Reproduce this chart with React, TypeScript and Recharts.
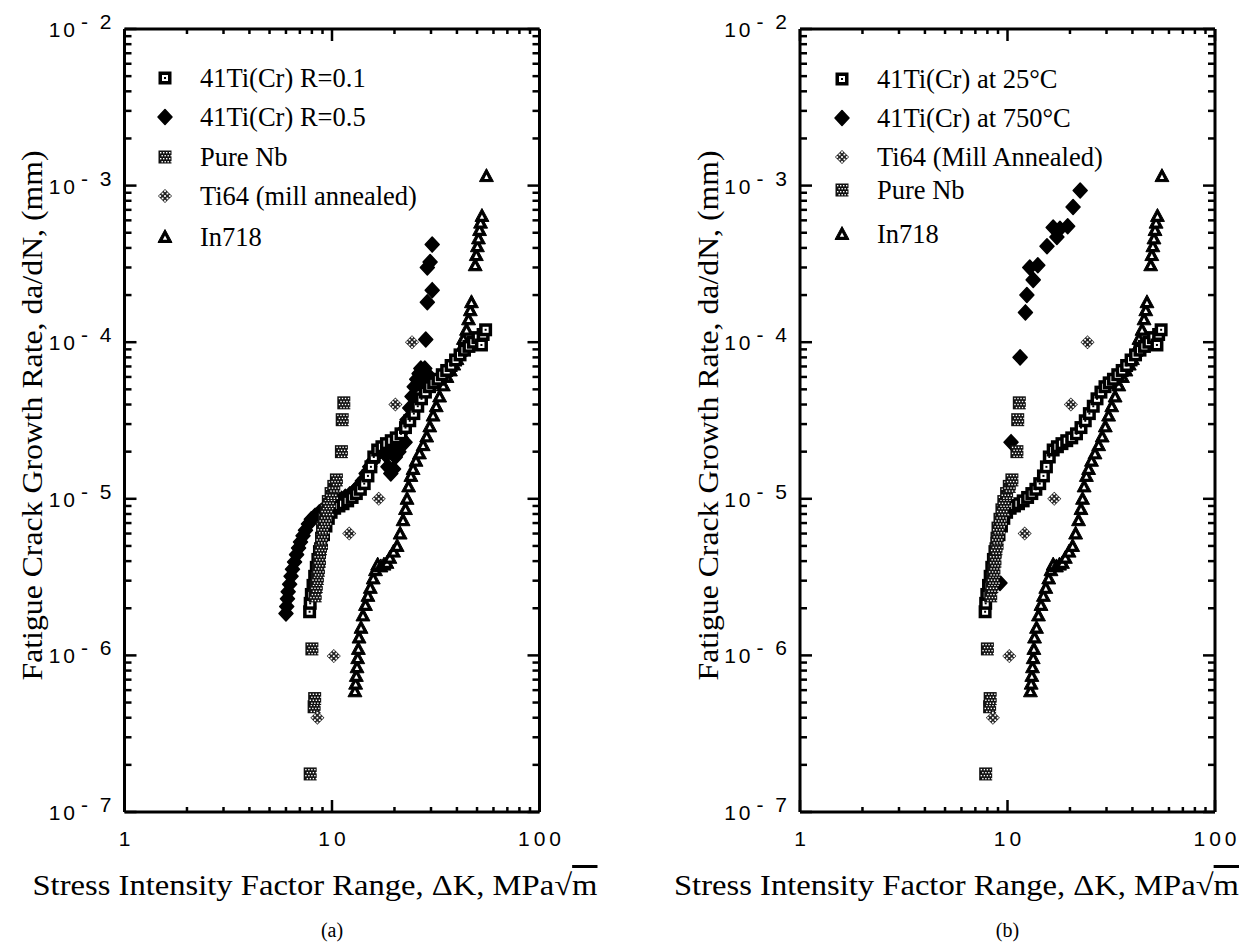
import React from 'react';
import { ScatterChart, Scatter, XAxis, YAxis, Legend } from 'recharts';

type Pt = [number, number];

// ---- data: [ΔK (MPa√m), da/dN (mm)] ----
const ti41R01: Pt[] = [
  [7.8, 1.9e-6], [7.85, 2.15e-6], [7.95, 2.45e-6], [8.1, 2.8e-6], [8.25, 3.2e-6], [8.4, 3.65e-6],
  [8.55, 4.1e-6], [8.7, 4.6e-6], [8.9, 5.2e-6], [9.1, 5.9e-6], [9.35, 6.7e-6], [9.6, 7.5e-6],
  [9.9, 8.2e-6], [10.3, 8.7e-6], [10.8, 9.0e-6], [11.3, 9.3e-6], [11.9, 9.7e-6], [12.5, 1.02e-5],
  [13.1, 1.08e-5], [13.7, 1.15e-5], [14.3, 1.25e-5], [14.9, 1.4e-5], [15.4, 1.6e-5], [15.9, 1.85e-5],
  [16.6, 2.05e-5], [17.4, 2.15e-5], [18.3, 2.25e-5], [19.3, 2.35e-5], [20.4, 2.45e-5], [21.5, 2.6e-5],
  [22.6, 2.85e-5], [23.7, 3.15e-5], [24.8, 3.5e-5], [25.9, 3.9e-5], [27.0, 4.35e-5], [28.2, 4.8e-5],
  [29.5, 5.2e-5], [30.9, 5.5e-5], [32.4, 5.8e-5], [34.0, 6.2e-5], [35.7, 6.6e-5], [37.5, 7.1e-5],
  [39.4, 7.7e-5], [41.4, 8.3e-5], [43.5, 8.9e-5], [45.7, 9.4e-5], [48.0, 1.0e-4], [50.5, 1.07e-4],
  [52.5, 9.6e-5], [53.5, 1.12e-4], [55.0, 1.2e-4],
];

const ti41R05: Pt[] = [
  [6.0, 1.85e-6], [6.05, 2.05e-6], [6.1, 2.3e-6], [6.15, 2.55e-6], [6.25, 2.85e-6], [6.35, 3.2e-6],
  [6.45, 3.55e-6], [6.6, 3.95e-6], [6.75, 4.4e-6], [6.9, 4.85e-6], [7.05, 5.3e-6], [7.25, 5.8e-6],
  [7.45, 6.3e-6], [7.7, 6.9e-6], [7.95, 7.4e-6], [8.3, 7.8e-6], [8.7, 8.2e-6], [9.1, 8.6e-6],
  [9.6, 9.0e-6], [10.1, 9.4e-6], [10.6, 9.7e-6], [11.1, 1.0e-5], [11.6, 1.03e-5], [12.2, 1.07e-5],
  [12.8, 1.12e-5], [13.4, 1.2e-5], [14.0, 1.3e-5], [14.6, 1.45e-5], [15.2, 1.6e-5], [15.8, 1.75e-5],
  [16.4, 1.9e-5], [17.0, 2.05e-5], [17.6, 2.15e-5], [18.2, 1.9e-5], [18.6, 1.6e-5], [19.2, 1.45e-5],
  [19.0, 2.1e-5], [19.8, 1.55e-5], [20.0, 2.3e-5], [20.2, 1.85e-5], [20.8, 2.2e-5], [21.0, 2.0e-5],
  [21.5, 2.45e-5], [22.2, 2.75e-5], [22.5, 2.3e-5], [23.0, 3.2e-5], [23.7, 3.8e-5], [24.3, 4.5e-5],
  [24.9, 5.2e-5], [25.6, 5.8e-5], [26.3, 6.3e-5], [26.8, 6.8e-5], [27.0, 6.0e-5], [27.2, 5.2e-5],
  [27.7, 5.5e-5], [28.4, 5.8e-5], [29.0, 6.2e-5], [29.5, 5.5e-5], [28.0, 6.8e-5], [28.3, 1.04e-4],
  [28.8, 1.8e-4], [30.4, 2.15e-4], [28.8, 3.0e-4], [29.7, 3.25e-4], [30.4, 4.2e-4],
];

const ti41T750: Pt[] = [
  [9.2, 2.9e-6], [10.4, 2.3e-5], [11.5, 8.0e-5], [12.2, 1.55e-4], [12.4, 2.0e-4], [13.3, 2.5e-4],
  [12.8, 3.0e-4], [14.0, 3.1e-4], [15.5, 4.1e-4], [16.6, 5.4e-4], [17.3, 4.7e-4], [17.9, 5.3e-4],
  [19.5, 5.5e-4], [20.7, 7.3e-4], [22.4, 9.3e-4],
];

const pureNb: Pt[] = [
  [7.85, 1.75e-7], [8.2, 4.7e-7], [8.25, 5.3e-7], [8.0, 1.1e-6], [8.3, 2.4e-6], [8.4, 2.75e-6],
  [8.5, 3.1e-6], [8.6, 3.5e-6], [8.7, 4.0e-6], [8.8, 4.8e-6], [8.9, 5.6e-6], [9.0, 6.5e-6],
  [9.2, 7.4e-6], [9.4, 8.5e-6], [9.6, 9.6e-6], [9.9, 1.08e-5], [10.2, 1.2e-5], [10.5, 1.32e-5],
  [11.1, 2.0e-5], [11.2, 3.2e-5], [11.4, 4.1e-5],
];

const ti64: Pt[] = [
  [8.5, 4.0e-7], [10.2, 9.9e-7], [12.1, 6.0e-6], [16.8, 1.0e-5], [20.2, 4.0e-5], [24.3, 1.0e-4],
];

const in718: Pt[] = [
  [12.9, 5.9e-7], [13.0, 6.6e-7], [13.1, 7.4e-7], [13.2, 8.4e-7], [13.3, 9.6e-7], [13.4, 1.1e-6],
  [13.5, 1.3e-6], [13.8, 1.5e-6], [14.1, 1.8e-6], [14.5, 2.1e-6], [14.9, 2.4e-6], [15.3, 2.7e-6],
  [15.8, 3.1e-6], [16.2, 3.5e-6], [16.6, 3.8e-6], [17.2, 3.7e-6], [17.8, 3.8e-6], [18.4, 3.9e-6],
  [19.0, 4.2e-6], [19.8, 4.6e-6], [20.6, 5.0e-6], [21.3, 6.0e-6], [22.0, 7.3e-6], [22.6, 8.6e-6],
  [23.0, 1.0e-5], [23.4, 1.2e-5], [24.0, 1.4e-5], [24.6, 1.55e-5], [25.4, 1.75e-5], [26.4, 1.95e-5],
  [27.5, 2.2e-5], [28.6, 2.5e-5], [29.6, 2.9e-5], [30.7, 3.4e-5], [31.8, 3.9e-5], [33.0, 4.5e-5],
  [34.4, 5.3e-5], [35.8, 6.0e-5], [37.2, 6.6e-5], [38.6, 7.2e-5], [40.0, 7.8e-5], [41.5, 8.8e-5],
  [43.0, 1.05e-4], [44.5, 1.2e-4], [45.5, 1.4e-4], [46.4, 1.6e-4], [47.0, 1.8e-4], [49.0, 3.1e-4],
  [49.6, 3.6e-4], [50.2, 4.1e-4], [50.8, 4.6e-4], [51.4, 5.2e-4], [52.0, 5.8e-4], [52.8, 6.4e-4],
  [55.5, 1.15e-3],
];

const legendLabelsA = ['41Ti(Cr) R=0.1', '41Ti(Cr) R=0.5', 'Pure Nb', 'Ti64 (mill annealed)', 'In718'];
const legendLabelsB = ['41Ti(Cr) at 25°C', '41Ti(Cr) at 750°C', 'Ti64 (Mill Annealed)', 'Pure Nb', 'In718'];

const kTicks = [1, 2, 3, 4, 5, 6, 7, 8, 9, 10, 20, 30, 40, 50, 60, 70, 80, 90, 100];
const rateDecades = [-7, -6, -5, -4, -3];
const rateTicks: number[] = [];
rateDecades.forEach((e) => {
  for (let m = 1; m < 10; m++) rateTicks.push(Number((m * Math.pow(10, e)).toPrecision(3)));
});
rateTicks.push(1e-2);

// ---- styles ----
const SANS = "'Liberation Sans', Arimo, Arial, Helvetica, sans-serif";
const SERIF = "'Liberation Serif', Tinos, 'Times New Roman', Times, 'DejaVu Serif', serif";
const AX = { stroke: '#000', strokeWidth: 3 };
const PANEL_W = 626;
const PANEL_H = 952;
const PLOT_W = 415;
const PLOT_TOP = 29;
const PLOT_BOTTOM = 812;

const serifStyle = (size: number): React.CSSProperties => ({ fontFamily: SERIF, fontSize: size });
const sansStyle = (size: number, ls: number): React.CSSProperties => ({ fontFamily: SANS, fontSize: size, letterSpacing: ls });

const isDecade = (v: number) => Math.abs(Math.log10(v) - Math.round(Math.log10(v))) < 1e-6;

// ---- marker shapes ----
const OpenSquare = ({ cx, cy }: any) => (
  <g>
    <rect x={cx - 6.5} y={cy - 6.5} width={13} height={13} fill="#000" />
    <rect x={cx - 3} y={cy - 3} width={6} height={6} fill="#fff" />
    <rect x={cx - 1} y={cy - 1} width={2} height={2} fill="#000" />
  </g>
);

const FilledDiamond = ({ cx, cy }: any) => (
  <path
    d={`M${cx},${cy - 7.5} L${cx + 7},${cy} L${cx},${cy + 7.5} L${cx - 7},${cy} Z`}
    fill="#000"
    stroke="#000"
    strokeWidth={1.5}
    strokeLinejoin="round"
  />
);

const CheckSquare = ({ cx, cy }: any) => {
  const dots: React.ReactNode[] = [];
  for (let j = 0; j < 4; j++) {
    for (let i = 0; i < 4; i++) {
      const ox = -5 + i * 3 + (j % 2) * 1.5;
      const oy = -5 + j * 3;
      dots.push(<rect key={`${i}-${j}`} x={cx + ox} y={cy + oy} width={1.4} height={1.4} fill="#fff" />);
    }
  }
  return (
    <g>
      <rect x={cx - 6.5} y={cy - 6.5} width={13} height={13} fill="#111" />
      {dots}
    </g>
  );
};

const CheckDiamond = ({ cx, cy }: any) => {
  const dots: React.ReactNode[] = [];
  for (let j = -2; j <= 2; j++) {
    for (let i = -2; i <= 2; i++) {
      if (Math.abs(i) + Math.abs(j) <= 2 && (i + j) % 2 === 0) {
        dots.push(<rect key={`${i}-${j}`} x={cx + i * 2.4 - 0.9} y={cy + j * 2.4 - 0.9} width={1.8} height={1.8} fill="#fff" />);
      }
    }
  }
  return (
    <g>
      <path d={`M${cx},${cy - 7} L${cx + 7},${cy} L${cx},${cy + 7} L${cx - 7},${cy} Z`} fill="#222" />
      {dots}
    </g>
  );
};

const OpenTriangle = ({ cx, cy }: any) => (
  <g>
    <path
      d={`M${cx},${cy - 7.5} L${cx + 7},${cy + 5.5} L${cx - 7},${cy + 5.5} Z`}
      fill="#000"
      stroke="#000"
      strokeWidth={1}
      strokeLinejoin="round"
    />
    <path d={`M${cx},${cy - 1.5} L${cx + 2.2},${cy + 2.8} L${cx - 2.2},${cy + 2.8} Z`} fill="#fff" />
  </g>
);

// ---- tick renderers ----
const BottomTick = (props: any) => {
  const { x, y, payload } = props;
  const v = payload.value;
  const major = isDecade(v);
  return (
    <g>
      <line x1={x} x2={x} y1={y} y2={y - (major ? 12 : 5)} stroke="#000" strokeWidth={2.5} />
      {major && (
        <text x={x + 2} y={y + 34} textAnchor="middle" style={sansStyle(21, 4)} fill="#000">
          {String(v)}
        </text>
      )}
    </g>
  );
};

const TopTick = (props: any) => {
  const { x, y, payload } = props;
  const major = isDecade(payload.value);
  return <line x1={x} x2={x} y1={y} y2={y + (major ? 12 : 5)} stroke="#000" strokeWidth={2.5} />;
};

const LeftTick = (props: any) => {
  const { x, y, payload } = props;
  const v = payload.value;
  const major = isDecade(v);
  const e = Math.round(Math.log10(v));
  return (
    <g>
      <line x1={x} x2={x + (major ? 12 : 7)} y1={y} y2={y} stroke="#000" strokeWidth={2.5} />
      {major && (
        <text x={x - 10} y={y + 8} textAnchor="end" style={sansStyle(21, 3)} fill="#000">
          <tspan>10</tspan>
          <tspan dx={3} dy={-8}>{`- ${-e}`}</tspan>
        </text>
      )}
    </g>
  );
};

const RightTick = (props: any) => {
  const { x, y, payload } = props;
  const major = isDecade(payload.value);
  return <line x1={x} x2={x - (major ? 12 : 7)} y1={y} y2={y} stroke="#000" strokeWidth={2.5} />;
};

// ---- titles ----
const makeXTitle = (caption: string, titleEnd: number) => (props: any) => {
  const vb = props.viewBox || {};
  const right = vb.x + vb.width;
  const mid = vb.x + vb.width / 2;
  return (
    <g>
      <text
        x={right + titleEnd}
        y={PLOT_BOTTOM + 83}
        textAnchor="end"
        textLength={565}
        lengthAdjust="spacingAndGlyphs"
        style={serifStyle(30)}
        fill="#000"
      >
        <tspan>Stress Intensity Factor Range, ΔK,  MPa</tspan>
        <tspan>√</tspan>
        <tspan style={{ textDecoration: 'overline' }}>m</tspan>
      </text>
      <text x={mid} y={PLOT_BOTTOM + 125} textAnchor="middle" style={serifStyle(20)} fill="#000">
        {caption}
      </text>
    </g>
  );
};

const YTitle = (props: any) => {
  const vb = props.viewBox || {};
  const cx = vb.x + vb.width - 93;
  const cy = vb.y + vb.height / 2 - 5;
  return (
    <text
      x={cx}
      y={cy}
      transform={`rotate(-90 ${cx} ${cy})`}
      textAnchor="middle"
      dominantBaseline="central"
      textLength={530}
      lengthAdjust="spacingAndGlyphs"
      style={serifStyle(30)}
      fill="#000"
    >
      Fatigue Crack Growth Rate, da/dN, (mm)
    </text>
  );
};

// ---- legend ----
type LegendItem = { label: string; Shape: any; baseline: number };

const makeLegend = (items: LegendItem[], markerX: number, textX: number) => () => (
  <svg width={PANEL_W} height={300} style={{ display: 'block', overflow: 'visible' }}>
    {items.map((it, i) => (
      <g key={i}>
        <it.Shape cx={markerX} cy={it.baseline - 9} />
        <text x={textX} y={it.baseline} style={serifStyle(26.5)} fill="#000">
          {it.label}
        </text>
      </g>
    ))}
  </svg>
);

type SeriesDef = { name: string; data: Pt[]; Shape: any };

const toRows = (pts: Pt[]) => pts.map(([k, r]) => ({ k, r }));

function Panel({
  plotLeft,
  series,
  legendItems,
  markerX,
  textX,
  caption,
  titleEnd,
}: {
  plotLeft: number;
  series: SeriesDef[];
  legendItems: LegendItem[];
  markerX: number;
  textX: number;
  caption: string;
  titleEnd: number;
}) {
  const yAxisW = 100;
  const xAxisH = 50;
  return (
    <ScatterChart
      width={PANEL_W}
      height={PANEL_H}
      margin={{
        top: PLOT_TOP,
        right: PANEL_W - plotLeft - PLOT_W,
        bottom: PANEL_H - PLOT_BOTTOM - xAxisH,
        left: plotLeft - yAxisW,
      }}
    >
      <XAxis
        xAxisId="b"
        dataKey="k"
        type="number"
        scale="log"
        domain={[1, 100]}
        allowDataOverflow
        ticks={kTicks}
        interval={0}
        tickSize={0}
        tickMargin={0}
        height={xAxisH}
        axisLine={AX}
        tickLine={false}
        tick={BottomTick}
        label={{ content: makeXTitle(caption, titleEnd) }}
      />
      <XAxis
        xAxisId="t"
        orientation="top"
        mirror
        dataKey="k"
        type="number"
        scale="log"
        domain={[1, 100]}
        allowDataOverflow
        ticks={kTicks}
        interval={0}
        tickSize={0}
        tickMargin={0}
        height={1}
        axisLine={AX}
        tickLine={false}
        tick={TopTick}
      />
      <YAxis
        yAxisId="l"
        dataKey="r"
        type="number"
        scale="log"
        domain={[1e-7, 1e-2]}
        allowDataOverflow
        ticks={rateTicks}
        interval={0}
        tickSize={0}
        tickMargin={0}
        width={yAxisW}
        axisLine={AX}
        tickLine={false}
        tick={LeftTick}
        label={{ content: YTitle }}
      />
      <YAxis
        yAxisId="r"
        orientation="right"
        mirror
        dataKey="r"
        type="number"
        scale="log"
        domain={[1e-7, 1e-2]}
        allowDataOverflow
        ticks={rateTicks}
        interval={0}
        tickSize={0}
        tickMargin={0}
        width={1}
        axisLine={AX}
        tickLine={false}
        tick={RightTick}
      />
      {series.map((s) => (
        <Scatter
          key={s.name}
          name={s.name}
          xAxisId="b"
          yAxisId="l"
          data={toRows(s.data)}
          shape={(p: any) => <s.Shape cx={p.cx} cy={p.cy} />}
          isAnimationActive={false}
        />
      ))}
      <Legend
        layout="horizontal"
        verticalAlign="middle"
        align="center"
        wrapperStyle={{ left: 0, top: 0, width: PANEL_W, height: 300, pointerEvents: 'none' }}
        content={makeLegend(legendItems, markerX, textX)}
      />
    </ScatterChart>
  );
}

export default function App() {
  const seriesA: SeriesDef[] = [
    { name: legendLabelsA[1], data: ti41R05, Shape: FilledDiamond },
    { name: legendLabelsA[4], data: in718, Shape: OpenTriangle },
    { name: legendLabelsA[0], data: ti41R01, Shape: OpenSquare },
    { name: legendLabelsA[2], data: pureNb, Shape: CheckSquare },
    { name: legendLabelsA[3], data: ti64, Shape: CheckDiamond },
  ];
  const seriesB: SeriesDef[] = [
    { name: legendLabelsB[4], data: in718, Shape: OpenTriangle },
    { name: legendLabelsB[0], data: ti41R01, Shape: OpenSquare },
    { name: legendLabelsB[1], data: ti41T750, Shape: FilledDiamond },
    { name: legendLabelsB[3], data: pureNb, Shape: CheckSquare },
    { name: legendLabelsB[2], data: ti64, Shape: CheckDiamond },
  ];
  const legendA: LegendItem[] = [
    { label: legendLabelsA[0], Shape: OpenSquare, baseline: 87 },
    { label: legendLabelsA[1], Shape: FilledDiamond, baseline: 126 },
    { label: legendLabelsA[2], Shape: CheckSquare, baseline: 166 },
    { label: legendLabelsA[3], Shape: CheckDiamond, baseline: 205 },
    { label: legendLabelsA[4], Shape: OpenTriangle, baseline: 246 },
  ];
  const legendB: LegendItem[] = [
    { label: legendLabelsB[0], Shape: OpenSquare, baseline: 88 },
    { label: legendLabelsB[1], Shape: FilledDiamond, baseline: 127 },
    { label: legendLabelsB[2], Shape: CheckDiamond, baseline: 166 },
    { label: legendLabelsB[3], Shape: CheckSquare, baseline: 199 },
    { label: legendLabelsB[4], Shape: OpenTriangle, baseline: 243 },
  ];
  return (
    <div
      style={{
        position: 'relative',
        width: 1252,
        height: 952,
        margin: '-8px 0 0 -8px',
        background: '#fff',
        overflow: 'hidden',
      }}
    >
      <div style={{ position: 'absolute', left: 0, top: 0 }}>
        <Panel plotLeft={124.5} series={seriesA} legendItems={legendA} markerX={165} textX={200} caption="(a)" titleEnd={58} />
      </div>
      <div style={{ position: 'absolute', left: 626, top: 0 }}>
        <Panel plotLeft={174} series={seriesB} legendItems={legendB} markerX={216} textX={251} caption="(b)" titleEnd={24} />
      </div>
    </div>
  );
}
